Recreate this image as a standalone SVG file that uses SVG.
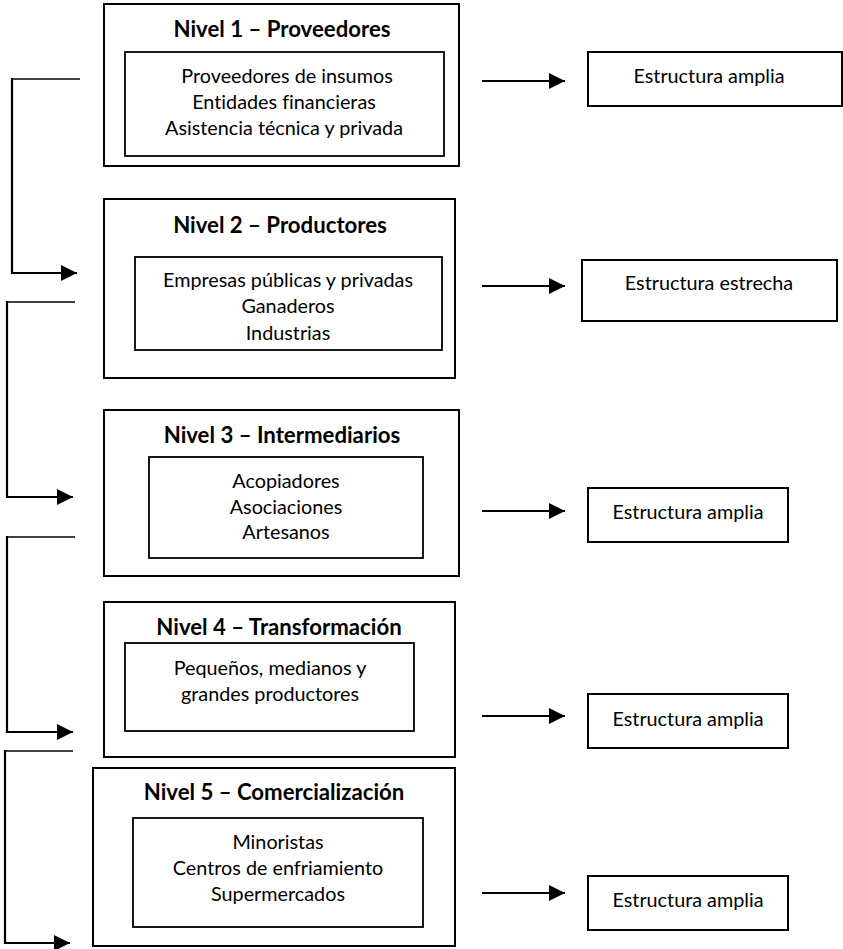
<svg xmlns="http://www.w3.org/2000/svg" width="843" height="949" viewBox="0 0 843 949">
  <style>
    .box { fill: #fff; stroke: #000; stroke-width: 2; }
    .inner { fill: #fff; stroke: #000; stroke-width: 1.8; }
    text { font-family: Lato, "Liberation Sans", sans-serif; text-anchor: middle; fill: #000; font-variant-ligatures: none; }
    .title { font-weight: bold; font-size: 22.2px; }
    .body { font-size: 19.8px; }
    .link { fill: none; stroke: #000; stroke-width: 2.2; }
    .thin { fill: none; stroke: #000; stroke-width: 1.6; }
  </style>
  <defs>
    <marker id="head" viewBox="0 0 16 16" refX="16" refY="8" markerWidth="16" markerHeight="16" markerUnits="userSpaceOnUse" orient="auto">
      <path d="M0,0 L16,8 L0,16 Z" fill="#000"/>
    </marker>
  </defs>
  <rect width="843" height="949" fill="#fff"/>

  <g id="nivel1">
    <rect class="box" x="104" y="4" width="355" height="162"/>
    <text class="title" x="282" y="37">Nivel 1 – Proveedores</text>
    <rect class="inner" x="125" y="52" width="319" height="104"/>
    <text class="body" x="287" y="83">Proveedores de insumos</text>
    <text class="body" x="284" y="109">Entidades financieras</text>
    <text class="body" x="284" y="135">Asistencia técnica y privada</text>
  </g>

  <g id="nivel2">
    <rect class="box" x="104" y="199" width="351" height="179"/>
    <text class="title" x="280" y="233">Nivel 2 – Productores</text>
    <rect class="inner" x="135" y="257" width="307" height="93"/>
    <text class="body" x="288" y="287">Empresas públicas y privadas</text>
    <text class="body" x="288" y="313">Ganaderos</text>
    <text class="body" x="288" y="340">Industrias</text>
  </g>

  <g id="nivel3">
    <rect class="box" x="104" y="410" width="355" height="166"/>
    <text class="title" x="282" y="443">Nivel 3 – Intermediarios</text>
    <rect class="inner" x="149" y="457" width="274" height="101"/>
    <text class="body" x="286" y="488">Acopiadores</text>
    <text class="body" x="286" y="514">Asociaciones</text>
    <text class="body" x="286" y="539">Artesanos</text>
  </g>

  <g id="nivel4">
    <rect class="box" x="104" y="602" width="351" height="155"/>
    <text class="title" x="279" y="635">Nivel 4 – Transformación</text>
    <rect class="inner" x="125" y="643" width="289" height="88"/>
    <text class="body" x="270" y="675">Pequeños, medianos y</text>
    <text class="body" x="270" y="701">grandes productores</text>
  </g>

  <g id="nivel5">
    <rect class="box" x="93" y="768" width="362" height="178"/>
    <text class="title" x="274" y="800">Nivel 5 – Comercialización</text>
    <rect class="inner" x="133" y="818" width="290" height="109"/>
    <text class="body" x="278" y="849">Minoristas</text>
    <text class="body" x="278" y="875">Centros de enfriamiento</text>
    <text class="body" x="278" y="901">Supermercados</text>
  </g>

  <g id="estructura1">
    <rect class="box" x="588" y="52" width="254" height="54"/>
    <text class="body" x="709" y="83">Estructura amplia</text>
  </g>
  <g id="estructura2">
    <rect class="box" x="582" y="260" width="255" height="61"/>
    <text class="body" x="709" y="290">Estructura estrecha</text>
  </g>
  <g id="estructura3">
    <rect class="box" x="588" y="488" width="200" height="54"/>
    <text class="body" x="688" y="519">Estructura amplia</text>
  </g>
  <g id="estructura4">
    <rect class="box" x="588" y="694" width="200" height="54"/>
    <text class="body" x="688" y="726">Estructura amplia</text>
  </g>
  <g id="estructura5">
    <rect class="box" x="588" y="876" width="200" height="54"/>
    <text class="body" x="688" y="907">Estructura amplia</text>
  </g>

  <g id="connectors">
    <!-- level-to-level brackets on the left -->
    <path class="thin" d="M80,79 H12"/>
    <path class="link" d="M12,78 V273 H77" marker-end="url(#head)"/>
    <path class="thin" d="M75,302 H7"/>
    <path class="link" d="M7,301 V497 H73" marker-end="url(#head)"/>
    <path class="thin" d="M75,537 H7"/>
    <path class="link" d="M7,536 V732 H73" marker-end="url(#head)"/>
    <path class="thin" d="M73,751 H5"/>
    <path class="link" d="M5,750 V943 H70" marker-end="url(#head)"/>
    <!-- arrows to structure boxes -->
    <path class="link" d="M482,81 H565" marker-end="url(#head)"/>
    <path class="link" d="M482,286 H565" marker-end="url(#head)"/>
    <path class="link" d="M482,511 H565" marker-end="url(#head)"/>
    <path class="link" d="M482,716 H565" marker-end="url(#head)"/>
    <path class="link" d="M482,893 H565" marker-end="url(#head)"/>
  </g>
</svg>
